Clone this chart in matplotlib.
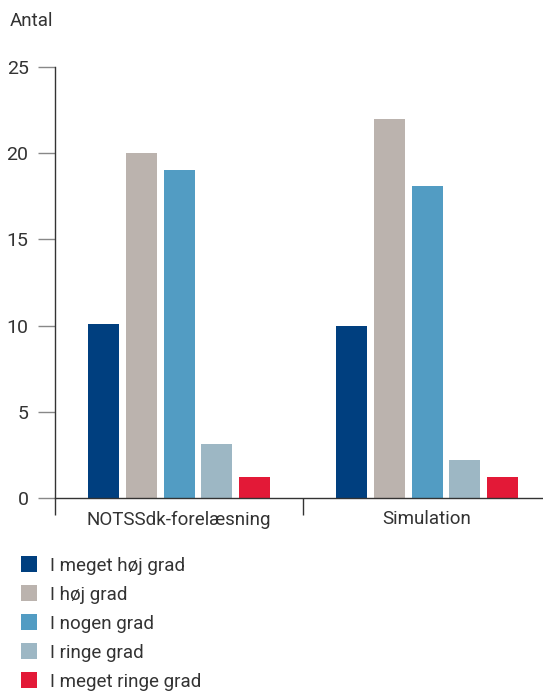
import matplotlib
matplotlib.use("Agg")
import matplotlib.pyplot as plt
import numpy as np
from matplotlib.patches import Rectangle

# data
categories = ["NOTSSdk-forelæsning", "Simulation"]
series = ["I meget høj grad", "I høj grad", "I nogen grad", "I ringe grad", "I meget ringe grad"]
values_notss = [10.1, 20.0, 19.0, 3.15, 1.23]
values_sim = [10.0, 22.0, 18.1, 2.2, 1.23]
colors = ["#003f7f", "#bbb3ae", "#529cc3", "#9db7c4", "#e31937"]

plt.rcParams["font.family"] = ["Roboto", "DejaVu Sans"]
text_color = "#333333"
fs = 13.5

W, H = 543, 691
fig = plt.figure(figsize=(W / 100, H / 100), dpi=100)
ax = fig.add_axes([55 / W, 1 - 498 / H, 496 / W, 431 / H])

x = np.arange(len(categories))
width = 0.125
step = 0.153
offsets = (np.arange(len(series)) - 2) * step
for i, name in enumerate(series):
    vals = [values_notss[i], values_sim[i]]
    ax.bar(x + offsets[i], vals, width=width, color=colors[i], label=name, zorder=2)

ax.set_xlim(-0.5, 1.5)
ax.set_ylim(0, 25)
ax.set_yticks([0, 5, 10, 15, 20, 25])
ax.tick_params(axis="y", direction="out", length=12, width=1, color="#888888",
               labelsize=14, labelcolor=text_color, pad=7)
# zero tick continues the baseline, so it is dark
ax.yaxis.get_major_ticks()[0].tick1line.set_color(text_color)

# category boundaries as major ticks, names as minor ticks
ax.set_xticks([-0.5, 0.5])
ax.set_xticklabels(["", ""])
ax.set_xticks(x, minor=True)
ax.set_xticklabels(categories, minor=True)
ax.tick_params(axis="x", which="major", direction="out", length=12, width=1, color=text_color)
ax.tick_params(axis="x", which="minor", length=0, labelsize=fs, labelcolor=text_color, pad=9)

for side in ["top", "right"]:
    ax.spines[side].set_visible(False)
for side in ["left", "bottom"]:
    ax.spines[side].set_color(text_color)
    ax.spines[side].set_linewidth(1)

fig.text(10 / W, 1 - 21 / H, "Antal", fontsize=fs, color=text_color, va="center", ha="left")

# legend drawn by hand below the axes
for i, name in enumerate(series):
    yc = 564 + i * 29
    fig.patches.append(Rectangle((21 / W, 1 - (yc + 8) / H), 16 / W, 16 / H,
                                 transform=fig.transFigure, facecolor=colors[i],
                                 edgecolor="none"))
    fig.text(50 / W, 1 - yc / H, name, fontsize=fs, color=text_color,
             va="center_baseline", ha="left")

fig.savefig("out.png", dpi=100)
